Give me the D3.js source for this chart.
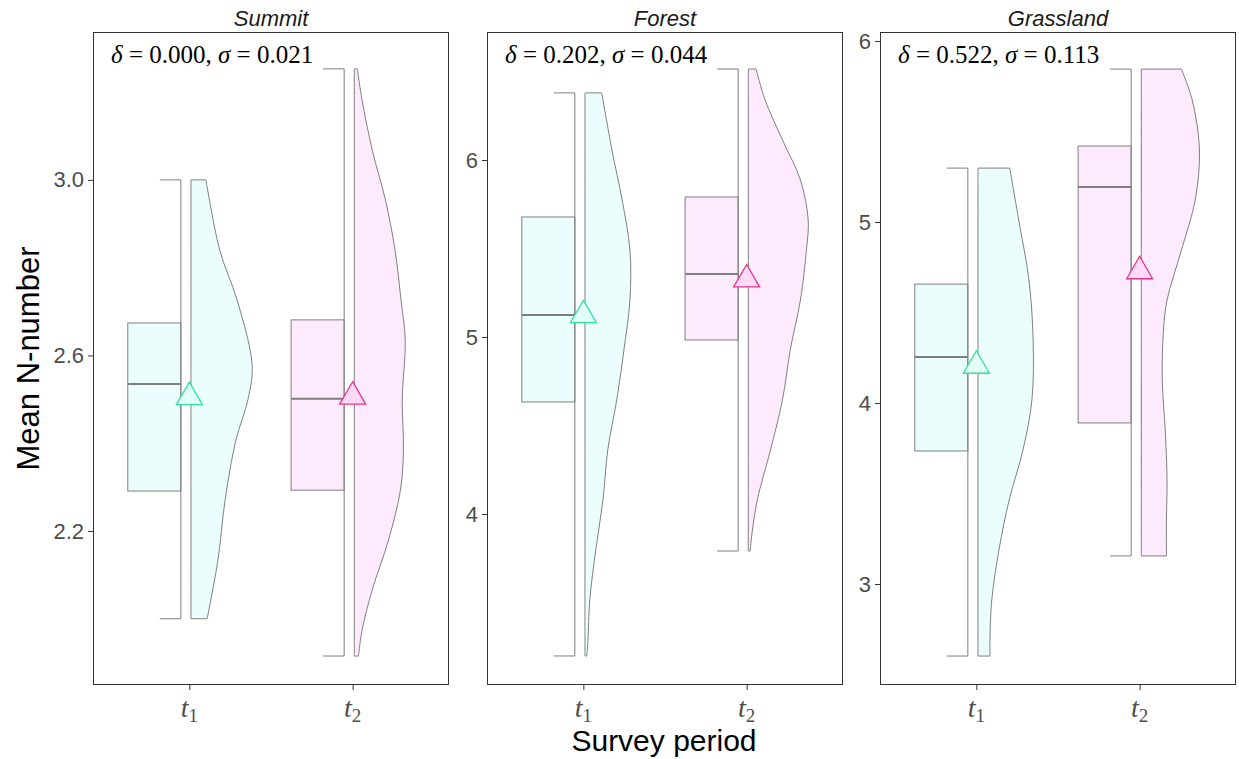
<!DOCTYPE html>
<html>
<head>
<meta charset="utf-8">
<script src="https://cdn.jsdelivr.net/npm/d3@7"></script>
<style>
  html, body { margin: 0; padding: 0; background: #fff; }
  svg { display: block; }
</style>
</head>
<body>
<svg id="chart" width="1239" height="759"></svg>
<script>
// ---- data ----
const habitats = ["Summit", "Forest", "Grassland"];
const periods = ["t1", "t2"];

// Box statistics per habitat: [t1, t2]
const whiskerMin = [[2.000, 1.915], [3.198, 3.791], [2.602, 3.155]];
const quartile1  = [[2.291, 2.293], [4.633, 4.983], [3.735, 3.890]];
const medians    = [[2.535, 2.501], [5.124, 5.356], [4.254, 5.193]];
const quartile3  = [[2.674, 2.681], [5.678, 5.791], [4.657, 5.420]];
const whiskerMax = [[3.000, 3.253], [6.379, 6.514], [5.298, 5.845]];
const means      = [[2.505, 2.506], [5.123, 5.325], [4.206, 4.728]];

const deltaLabels = ["0.000", "0.202", "0.522"];
const sigmaLabels = ["0.021", "0.044", "0.113"];

const yTicks  = [[2.2, 2.6, 3.0], [4, 5, 6], [3, 4, 5, 6]];
const yLimits = [[1.849, 3.337], [3.034, 6.723], [2.442, 6.050]];
const yTickFormat = [".1f", "d", "d"];

// Half-violin density profiles (value, relative density) per habitat and period
const violinSummitT1 = [[3.000,0.25],[2.840,0.48],[2.726,0.77],[2.578,1.02],[2.499,0.95],[2.407,0.75],[2.271,0.57],[2.134,0.45],[2.000,0.27]];
const violinSummitT2 = [[3.253,0.05],[3.182,0.13],[3.068,0.30],[2.954,0.52],[2.840,0.68],[2.726,0.78],[2.635,0.85],[2.499,0.80],[2.385,0.82],[2.293,0.77],[2.179,0.57],[2.066,0.30],[1.974,0.13],[1.915,0.07]];
const violinForestT1 = [[6.379,0.28],[6.056,0.45],[5.774,0.62],[5.492,0.75],[5.209,0.75],[4.927,0.65],[4.644,0.53],[4.362,0.38],[4.079,0.30],[3.797,0.18],[3.514,0.08],[3.288,0.05],[3.198,0.03]];
const violinForestT2 = [[6.514,0.13],[6.339,0.28],[6.113,0.57],[5.887,0.87],[5.661,1.00],[5.492,0.97],[5.209,0.87],[4.927,0.70],[4.644,0.57],[4.362,0.37],[4.079,0.15],[3.910,0.07],[3.791,0.03]];
const violinGrassT1  = [[5.298,0.53],[5.011,0.68],[4.680,0.85],[4.348,0.92],[4.017,0.90],[3.740,0.75],[3.464,0.52],[3.188,0.35],[2.912,0.23],[2.691,0.20],[2.602,0.20]];
const violinGrassT2  = [[5.845,0.67],[5.674,0.85],[5.398,0.97],[5.122,0.90],[4.845,0.67],[4.569,0.43],[4.403,0.37],[4.127,0.35],[3.851,0.40],[3.575,0.43],[3.354,0.42],[3.155,0.42]];
const violins = [
  [violinSummitT1, violinSummitT2],
  [violinForestT1, violinForestT2],
  [violinGrassT1, violinGrassT2]
];

// ---- appearance ----
const fills = { t1: "#EAFFFD", t2: "#FDEBFD" };
const meanFill = { t1: "#E2FFF8", t2: "#FFDAF4" };
const meanStroke = { t1: "#2FE39C", t2: "#E6338F" };
const lineGrey = "#7F7F7F";
const axisDark = "#333333";
const tickGrey = "#4D4D4D";
const sansFont = "'Liberation Sans', 'DejaVu Sans', sans-serif";
const serifFont = "'Liberation Serif', 'DejaVu Serif', serif";

const svg = d3.select("#chart");

const panelTop = 32, panelBottom = 685;
const panelLefts = [93, 487, 880];
const panelWidth = 356;

habitats.forEach((habitat, p) => {
  const left = panelLefts[p], right = left + panelWidth;
  const g = svg.append("g");

  const x = d3.scalePoint().domain(periods).range([left, right]).padding(0.59);
  const step = x.step();
  const y = d3.scaleLinear().domain(yLimits[p]).range([panelBottom, panelTop]);
  const w = d3.scaleLinear().domain([0, 1]).range([0, 0.367 * step]);

  // panel title
  svg.append("text")
    .attr("x", (left + right) / 2).attr("y", 26)
    .attr("text-anchor", "middle")
    .attr("font-family", sansFont).attr("font-style", "italic")
    .attr("font-size", 22).attr("fill", "#1A1A1A")
    .text(habitat);

  periods.forEach((per, i) => {
    const cx = x(per);
    const boxRight = cx - 0.052 * step;
    const boxW = 0.325 * step;
    const cap = 0.129 * step;

    // half box
    g.append("rect")
      .attr("x", boxRight - boxW).attr("width", boxW)
      .attr("y", y(quartile3[p][i])).attr("height", y(quartile1[p][i]) - y(quartile3[p][i]))
      .attr("fill", fills[per]).attr("stroke", lineGrey).attr("stroke-width", 1);
    g.append("line")
      .attr("x1", boxRight - boxW).attr("x2", boxRight)
      .attr("y1", y(medians[p][i])).attr("y2", y(medians[p][i]))
      .attr("stroke", lineGrey).attr("stroke-width", 2);

    // whisker bracket
    g.append("path")
      .attr("d", `M${boxRight - cap},${y(whiskerMax[p][i])}H${boxRight}V${y(whiskerMin[p][i])}H${boxRight - cap}`)
      .attr("fill", "none").attr("stroke", lineGrey).attr("stroke-width", 1);

    // half violin
    const vLeft = cx + 0.01 * step;
    const area = d3.area()
      .y(d => y(d[0]))
      .x0(vLeft)
      .x1(d => vLeft + w(d[1]))
      .curve(d3.curveCatmullRom.alpha(0.5));
    g.append("path")
      .attr("d", area(violins[p][i]))
      .attr("fill", fills[per]).attr("stroke", lineGrey).attr("stroke-width", 1);

    // mean marker
    const cy = y(means[p][i]);
    const r = 15;
    g.append("path")
      .attr("d", `M${cx},${cy - r}L${cx + r * 0.866},${cy + r / 2}L${cx - r * 0.866},${cy + r / 2}Z`)
      .attr("fill", meanFill[per]).attr("stroke", meanStroke[per]).attr("stroke-width", 1.3);
  });

  // annotation
  const ann = svg.append("text")
    .attr("x", left + 18).attr("y", 63)
    .attr("font-family", serifFont).attr("font-size", 25).attr("fill", "#000");
  ann.append("tspan").attr("font-style", "italic").text("δ");
  ann.append("tspan").text(" = " + deltaLabels[p] + ", ");
  ann.append("tspan").attr("font-style", "italic").text("σ");
  ann.append("tspan").text(" = " + sigmaLabels[p]);

  // panel border
  svg.append("rect")
    .attr("x", left + 0.5).attr("y", panelTop + 0.5)
    .attr("width", panelWidth - 1).attr("height", panelBottom - panelTop - 1)
    .attr("fill", "none").attr("stroke", axisDark).attr("stroke-width", 1);

  // y axis
  const yAxis = d3.axisLeft(y).tickValues(yTicks[p]).tickFormat(d3.format(yTickFormat[p])).tickSize(5).tickPadding(4);
  const ya = svg.append("g").attr("transform", `translate(${left},0)`).call(yAxis);
  ya.select(".domain").remove();
  ya.selectAll(".tick line").attr("stroke", axisDark);
  ya.selectAll(".tick text").attr("font-family", sansFont).attr("font-size", 22).attr("fill", tickGrey);

  // x axis
  const xAxis = d3.axisBottom(x).tickSize(5).tickFormat("");
  const xa = svg.append("g").attr("transform", `translate(0,${panelBottom})`).call(xAxis);
  xa.select(".domain").remove();
  xa.selectAll(".tick line").attr("stroke", axisDark);
  periods.forEach(per => {
    const t = svg.append("text")
      .attr("x", x(per)).attr("y", 717)
      .attr("text-anchor", "middle")
      .attr("font-family", serifFont).attr("font-size", 28).attr("fill", tickGrey);
    t.append("tspan").attr("font-style", "italic").text("t");
    t.append("tspan").attr("font-size", 19).attr("dy", 5).text(per.slice(1));
  });
});

// axis titles
svg.append("text")
  .attr("transform", `translate(39,${(panelTop + panelBottom) / 2}) rotate(-90)`)
  .attr("text-anchor", "middle")
  .attr("font-family", sansFont).attr("font-size", 31).attr("fill", "#000")
  .text("Mean N-number");

svg.append("text")
  .attr("x", 664).attr("y", 751)
  .attr("text-anchor", "middle")
  .attr("font-family", sansFont).attr("font-size", 30).attr("fill", "#000")
  .text("Survey period");
</script>
</body>
</html>
